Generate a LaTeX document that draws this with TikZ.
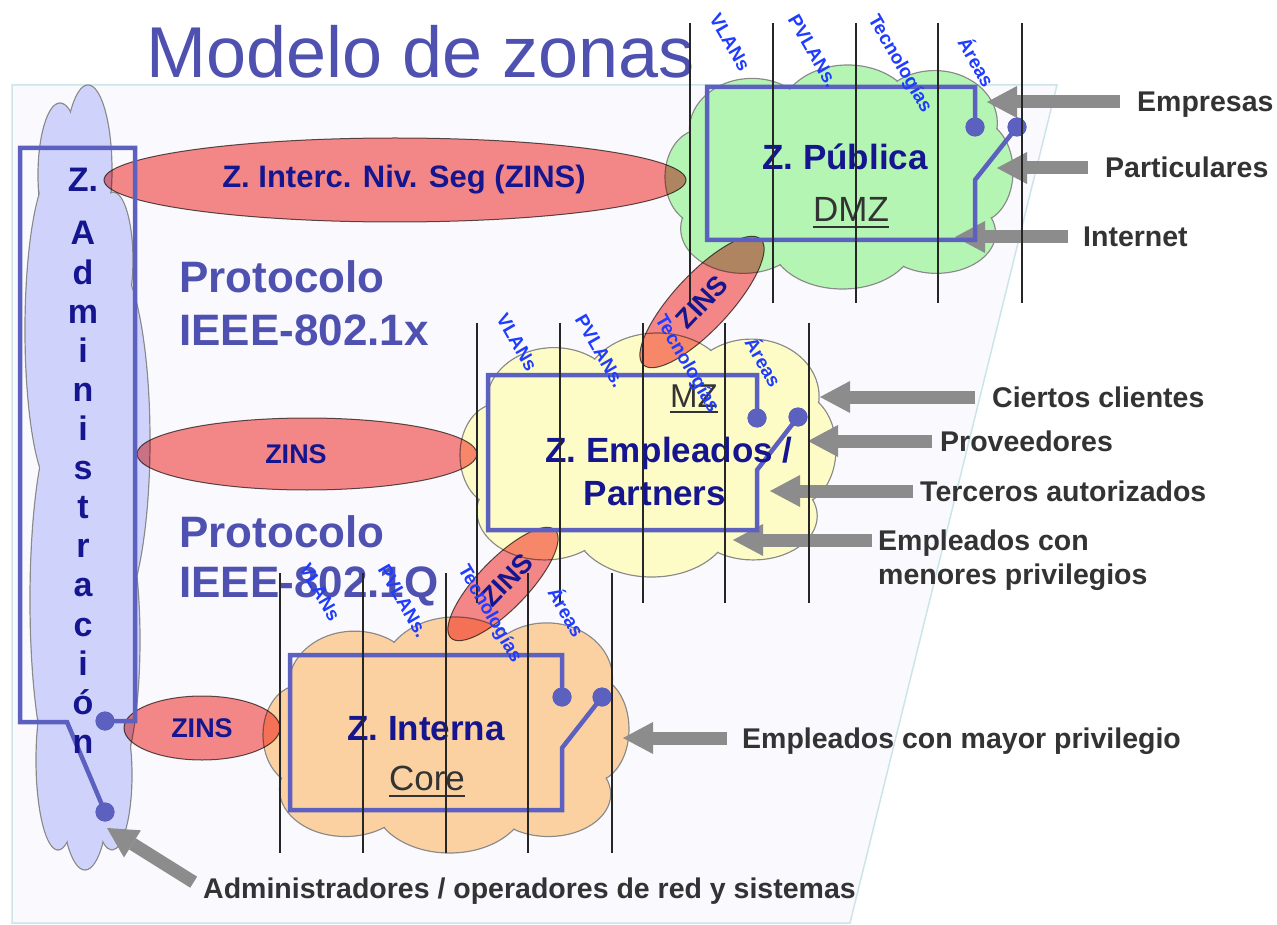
\documentclass[tikz,border=0pt]{standalone}
\usepackage{fontspec}
\setmainfont{Liberation Sans}
\usetikzlibrary{shapes.geometric,arrows.meta}

\definecolor{panelfill}{HTML}{FAFAFE}
\definecolor{paneledge}{HTML}{CDE4E8}
\definecolor{titleblue}{HTML}{4F51B0}
\definecolor{navy}{HTML}{15168F}
\definecolor{rectblue}{HTML}{5C60BF}
\definecolor{lblblue}{HTML}{1F3CFF}
\definecolor{greencl}{HTML}{B4F5B4}
\definecolor{yellowcl}{HTML}{FDFBC6}
\definecolor{orangecl}{HTML}{FBD1A2}
\definecolor{lavcl}{HTML}{CFD3FB}
\definecolor{cloudedge}{HTML}{8A8A8A}
\definecolor{zinsfill}{HTML}{F88A88}
\definecolor{zinsedge}{HTML}{5A5A5A}
\definecolor{arrowgray}{HTML}{8C8C8C}
\definecolor{textgray}{HTML}{333333}

\newcommand{\cloudpuffs}{-0.50/-0.42/0.36/0.46, 0.05/-0.52/0.40/0.48, 0.55/-0.48/0.36/0.47, 0.80/-0.05/0.20/0.45, 0.56/0.50/0.34/0.36, 0.02/0.55/0.42/0.45, -0.55/0.46/0.36/0.40, -0.80/0.00/0.20/0.42, 0/0/0.80/0.70}

\newcommand{\zonecloud}[5]{%
  \foreach \u/\v/\ru/\rv in \cloudpuffs {
    \filldraw[fill=#5, draw=cloudedge, line width=1.2pt] ({#1+(\u)*#3},{#2+(\v)*#4}) ellipse [x radius={(\ru)*#3}, y radius={(\rv)*#4}];
  }
  \foreach \u/\v/\ru/\rv in \cloudpuffs {
    \fill[#5] ({#1+(\u)*#3},{#2+(\v)*#4}) ellipse [x radius={(\ru)*#3-1}, y radius={(\rv)*#4-1}];
  }
}

\newcommand{\admpuffs}{60/175/22/72, 88/170/24/85, 113/260/20/68, 55/330/30/160, 112/440/38/180, 60/600/30/180, 108/640/32/150, 85/780/25/90, 112/775/20/75, 58/760/22/90, 88/480/45/330}

\newcommand{\admcloud}{%
  \foreach \cx/\cy/\rx/\ry in \admpuffs {
    \filldraw[fill=lavcl, draw=cloudedge, line width=1.2pt] (\cx,\cy) ellipse [x radius=\rx, y radius=\ry];
  }
  \foreach \cx/\cy/\rx/\ry in \admpuffs {
    \fill[lavcl] (\cx,\cy) ellipse [x radius=\rx-1, y radius=\ry-1];
  }
}

\newcommand{\ruler}{%
  \foreach \xx in {690,773,856,938,1022} { \draw[vline] (\xx,23) -- (\xx,303); }
  \node[rlbl] (vl) at (730,42.5) {VLANs};
  \node[rlbl] (pv) at (813,51.5) {PVLANs.};
  \node[rlbl] (te) at (899.5,64) {Tecnologías};
  \node[rlbl] (ar) at (977.5,61.5) {Áreas};
}

\tikzset{
  vline/.style={draw=black!85, line width=1.3pt},
  rlbl/.style={text=lblblue, font=\bfseries\fontsize{19}{22}\selectfont, rotate=-60, inner sep=0pt},
  zins/.style={ellipse, fill=zinsfill, draw=zinsedge, line width=1pt, inner sep=0pt},
  zinstext/.style={text=navy, font=\bfseries\fontsize{27}{30}\selectfont, inner sep=0pt},
  ztext/.style={text=navy, font=\bfseries\fontsize{35}{40}\selectfont, inner sep=0pt, anchor=base},
  subtext/.style={text=textgray, font=\fontsize{35}{40}\selectfont, inner sep=0pt, anchor=base},
  uline/.style={draw=textgray, line width=1.6pt},
  switchline/.style={draw=rectblue, line width=4.5pt, line join=miter},
  swdot/.style={circle, fill=rectblue, inner sep=0pt, minimum size=19pt},
  lbl/.style={text=textgray, font=\bfseries\fontsize{28.5}{32}\selectfont, inner sep=0pt, anchor=west, text height=20pt, text depth=0pt},
  garrow/.style={draw=arrowgray, line width=13pt, -{Triangle[length=30pt,width=32pt,line width=0pt]}},
  proto/.style={text=titleblue, font=\bfseries\fontsize{44}{50}\selectfont, inner sep=0pt, anchor=base west},
  admtext/.style={text=navy, font=\bfseries\fontsize{34}{40}\selectfont, inner sep=0pt, anchor=base},
}

\begin{document}
\begin{tikzpicture}[x=1pt,y=-1pt]
\useasboundingbox (0,0) rectangle (1277,925);
\fill[white] (0,0) rectangle (1277,925);
\draw[fill=panelfill, draw=paneledge, line width=1.5pt] (12,85) -- (1057,85) -- (850,923) -- (12,923) -- cycle;
\node[anchor=base west, inner sep=0pt, text=titleblue, font=\fontsize{72}{80}\selectfont] (title) at (146,78) {Modelo de zonas};

% clouds
\admcloud
\zonecloud{839}{177}{174}{112}{greencl}
\zonecloud{648}{455}{188}{122}{yellowcl}
\zonecloud{446}{735}{183}{118}{orangecl}

% ZINS ellipses
\begin{scope}[blend mode=multiply]
\node[zins, minimum width=582pt, minimum height=84pt] (zbig) at (395,180) {};
\node[zins, minimum width=340pt, minimum height=72pt] (zmid) at (307,454) {};
\node[zins, minimum width=156pt, minimum height=64pt] (zlow) at (202,728) {};
\node[zins, minimum width=172pt, minimum height=56pt, rotate=47] (zd1) at (702,302) {};
\node[zins, minimum width=150pt, minimum height=50pt, rotate=46] (zd2) at (503,584) {};
\end{scope}
\node[text=navy, font=\bfseries\fontsize{31}{34}\selectfont, inner sep=0pt] (zbigt) at (404,180) {Z. Interc. Niv. Seg (ZINS)};
\node[zinstext] (zmidt) at (296,454) {ZINS};
\node[zinstext] (zlowt) at (202,728) {ZINS};
\node[zinstext, rotate=47] (zd1t) at (702,302) {ZINS};
\node[zinstext, rotate=46] (zd2t) at (507,580) {ZINS};

% protocol texts
\node[proto] (p1a) at (179,293) {Protocolo};
\node[proto] (p1b) at (179,345) {IEEE-802.1x};
\node[proto] (p2a) at (179,547) {Protocolo};
\node[proto] (p2b) at (179,597) {IEEE-802.1Q};

% gray arrows and labels
\coordinate (tEmp) at (987,102);
\coordinate (tPar) at (997,168);
\coordinate (tInt) at (955,237);
\coordinate (tCie) at (820,397);
\coordinate (tPro) at (808,441);
\coordinate (tTer) at (770,491);
\coordinate (tMen) at (733,540);
\coordinate (tMay) at (623,738);
\coordinate (tAdm) at (107,828);
\node[lbl] (lEmp) at (1137,102) {Empresas};
\node[lbl] (lPar) at (1105,168) {Particulares};
\node[lbl] (lInt) at (1083,237) {Internet};
\node[lbl] (lCie) at (992,397) {Ciertos clientes};
\node[lbl] (lPro) at (940,441) {Proveedores};
\node[lbl] (lTer) at (920,491) {Terceros autorizados};
\node[lbl] (lMen) at (878,540) {Empleados con};
\node[lbl] (lMen2) at (878,574) {menores privilegios};
\node[lbl] (lMay) at (742,738) {Empleados con mayor privilegio};
\node[lbl] (lAdm) at (203,888) {Administradores / operadores de red y sistemas};
\draw[garrow, shorten <=17pt] (lEmp.west) -- (tEmp);
\draw[garrow, shorten <=17pt] (lPar.west) -- (tPar);
\draw[garrow, shorten <=15pt] (lInt.west) -- (tInt);
\draw[garrow, shorten <=17pt] (lCie.west) -- (tCie);
\draw[garrow, shorten <=8pt] (lPro.west) -- (tPro);
\draw[garrow, shorten <=7pt] (lTer.west) -- (tTer);
\draw[garrow, shorten <=6pt] (lMen.west) -- (tMen);
\draw[garrow, shorten <=15pt] (lMay.west) -- (tMay);
\draw[garrow, shorten <=11pt] (lAdm.west) -- (tAdm);

% zone frames with switches
\node[swdot] (pubA) at (975,127) {};
\node[swdot] (pubB) at (1017,127) {};
\draw[switchline] (pubA.center) -- (975,87) -- (707,87) -- (707,240) -- (975,240) -- (975,180) -- (pubB.center);
\node[swdot] (empA) at (757,418) {};
\node[swdot] (empB) at (798,417) {};
\draw[switchline] (empA.center) -- (757,375) -- (488,375) -- (488,530) -- (757,530) -- (757,470) -- (empB.center);
\node[swdot] (intA) at (562,697) {};
\node[swdot] (intB) at (602,697) {};
\draw[switchline] (intA.center) -- (562,655) -- (290,655) -- (290,810) -- (562,810) -- (562,748) -- (intB.center);
\node[swdot] (admA) at (105,721) {};
\node[swdot] (admB) at (105,812) {};
\draw[switchline] (admA.center) -- (135,721) -- (135,148) -- (20,148) -- (20,722) -- (67,722) -- (admB.center);
\foreach \d in {pubA,pubB,empA,empB,intA,intB,admA,admB} { \fill[rectblue] (\d) circle [radius=9.5]; }

% zone texts
\node[ztext] (zpub) at (845,170) {Z. Pública};
\node[subtext] (dmz) at (851,222) {DMZ};
\draw[uline] ([yshift=-5pt]dmz.base west) -- ([yshift=-5pt]dmz.base east);
\node[ztext] (zemp1) at (669,462) {Z. Empleados /};
\node[ztext] (zemp2) at (655,505) {Partners};
\node[subtext, font=\fontsize{33}{38}\selectfont] (mz) at (694,407) {MZ};
\draw[uline] ([yshift=-5pt]mz.base west) -- ([yshift=-5pt]mz.base east);
\node[ztext] (zint) at (426,740) {Z. Interna};
\node[subtext] (core) at (427,790) {Core};
\draw[uline] ([yshift=-6pt]core.base west) -- ([yshift=-6pt]core.base east);

% rulers
\begin{scope}[name prefix=g1-] \ruler \end{scope}
\begin{scope}[shift={(-213,300)}, name prefix=g2-] \ruler \end{scope}
\begin{scope}[shift={(-410,550)}, name prefix=g3-] \ruler \end{scope}

% administration letters
\node[admtext] (admZ) at (83,192) {Z.};
\foreach \ch [count=\k from 0] in {A,d,m,i,n,i,s,t,r,a,c,i,ó,n} {
  \node[admtext] (adm\k) at (83,{245+39.1*\k}) {\ch};
}
\end{tikzpicture}
\end{document}
